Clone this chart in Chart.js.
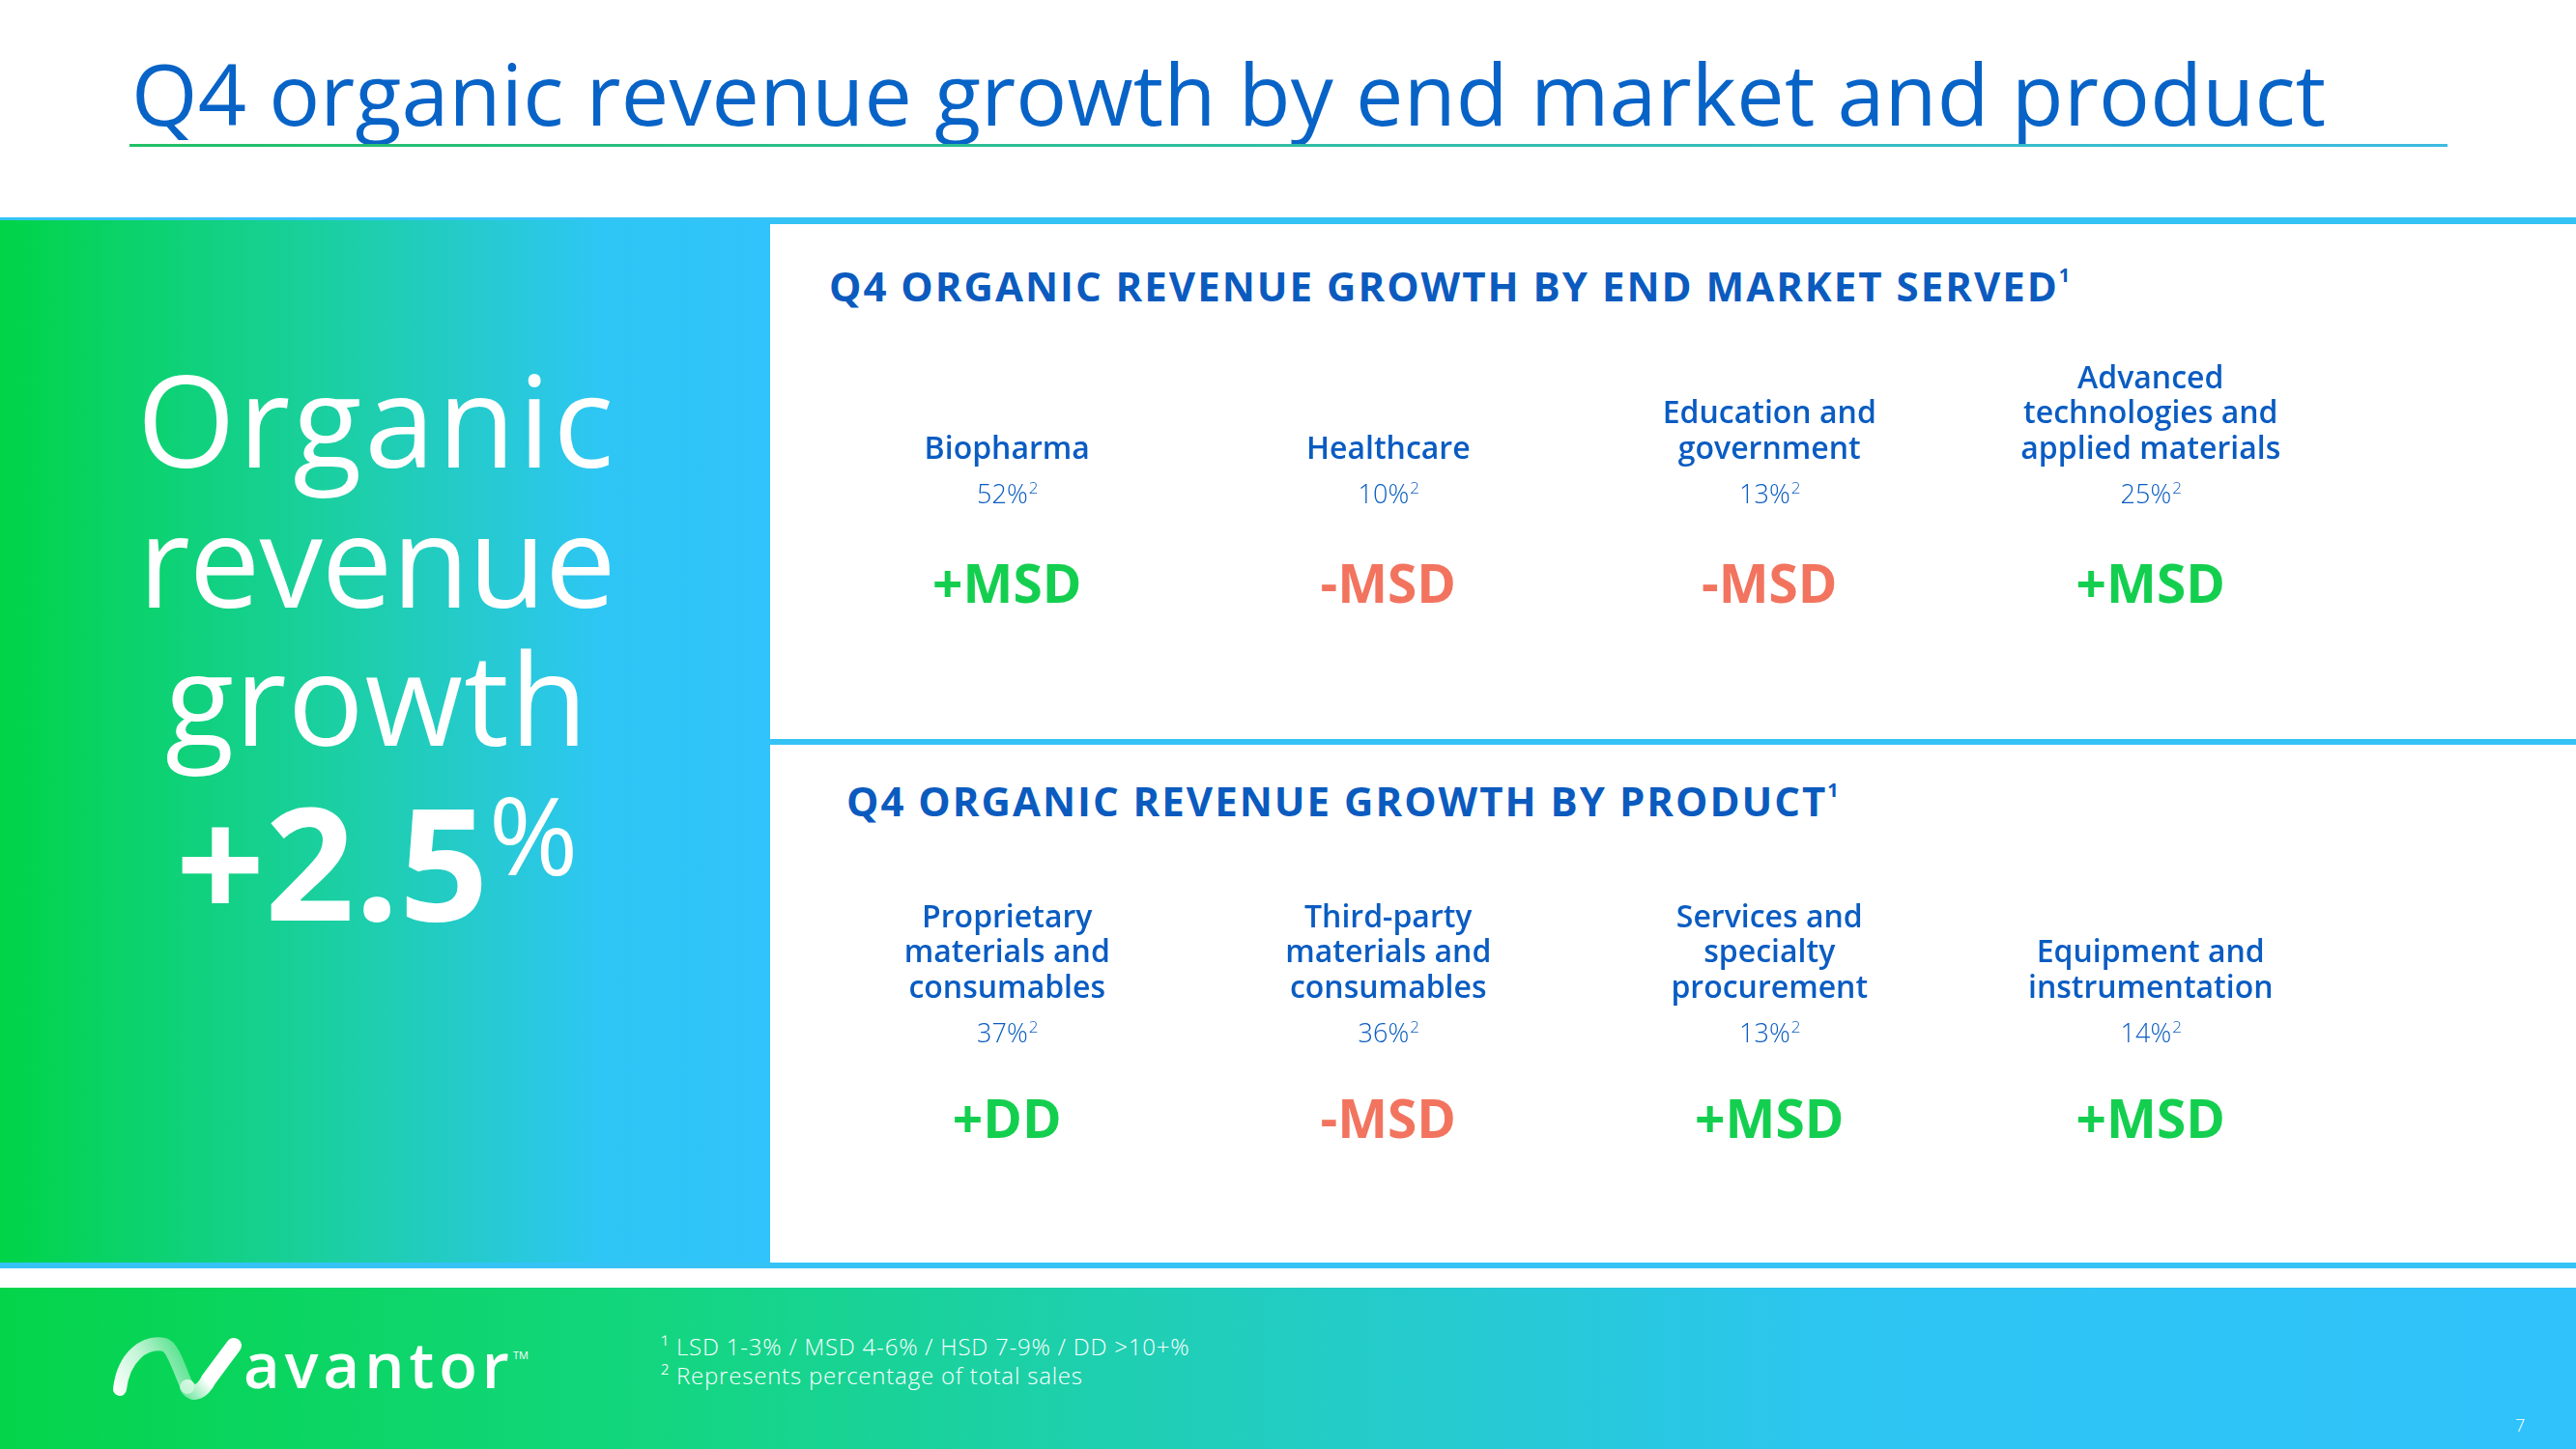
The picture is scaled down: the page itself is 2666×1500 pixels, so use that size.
<!DOCTYPE html>
<html>
<head>
<meta charset="utf-8">
<script src="https://cdn.jsdelivr.net/npm/chart.js@4/dist/chart.umd.min.js"></script>
<style>
  html, body { margin: 0; padding: 0; }
  body { width: 2666px; height: 1500px; position: relative; overflow: hidden; background: #fff; font-family: 'Open Sans', sans-serif; }
  .abs { position: absolute; line-height: 1; white-space: nowrap; }
  #title { left: 136px; top: 52px; font-size: 88px; color: #0863c7; font-weight: 400; letter-spacing: 0.2px; }
  #titleRule { left: 134px; top: 149px; width: 2399px; height: 3px; background: linear-gradient(90deg, #22c066, #3cbbe2); }
  #bandTop { left: 0; top: 225px; width: 2666px; height: 7px; background: #35c3f6; }
  #leftPanel { left: 0; top: 228px; width: 797px; height: 1079px; background: linear-gradient(90deg, #00d447 0%, #1ccfa6 45%, #2ec6f4 78%, #31c3fb 100%); }
  #midRule { left: 797px; top: 765px; width: 1869px; height: 6px; background: #35c3f6; }
  #bandBottom { left: 0; top: 1307px; width: 2666px; height: 6px; background: #35c3f6; }
  #footer { left: 0; top: 1333px; width: 2666px; height: 167px; background: linear-gradient(90deg, #04d44a 0%, #13d67e 25%, #22cdc0 49%, #2dc5f2 72%, #30c2fb 100%); }
  .big { color: #fff; width: 780px; text-align: center; left: 0; font-size: 131px; letter-spacing: 1px; }
  .head { color: #0b5bbf; font-size: 42px; font-weight: 700; letter-spacing: 2px; }
  .head sup { font-size: 20px; vertical-align: 0; position: relative; top: -20px; letter-spacing: 0; }
  .panel { position: absolute; left: 797px; width: 1869px; }
  .note { color: #fff; font-size: 24px; font-weight: 300; letter-spacing: 0.8px; }
</style>
</head>
<body>
<div class="abs" id="title">Q4 organic revenue growth by end market and product</div>
<div class="abs" id="titleRule"></div>
<div class="abs" id="bandTop"></div>
<div class="abs" id="leftPanel"></div>
<div class="abs" id="midRule"></div>
<div class="abs" id="bandBottom"></div>
<div class="abs" id="footer"></div>

<div class="abs big" style="top:368px;letter-spacing:3px;">Organic</div>
<div class="abs big" style="top:513px;letter-spacing:-1px;">revenue</div>
<div class="abs big" style="top:656px;">growth</div>
<div class="abs big" id="totalGrowth" style="top:809px;font-size:162px;font-weight:700;letter-spacing:0;"></div>

<div class="abs head" id="head1" style="left:858px;top:275px;"></div>
<div class="abs head" id="head2" style="left:876px;top:808px;"></div>

<div class="panel" style="top:232px;height:533px;"><canvas id="chartMarket"></canvas></div>
<div class="panel" style="top:771px;height:536px;"><canvas id="chartProduct"></canvas></div>

<svg class="abs" style="left:100px;top:1380px;" width="160" height="70" viewBox="100 1380 160 70">
  <defs>
    <linearGradient id="lg1" gradientUnits="userSpaceOnUse" x1="118" y1="1440" x2="200" y2="1395">
      <stop offset="0" stop-color="#fff" stop-opacity="1"/>
      <stop offset="0.45" stop-color="#fff" stop-opacity="0.75"/>
      <stop offset="1" stop-color="#fff" stop-opacity="0.2"/>
    </linearGradient>
    <linearGradient id="lg2" gradientUnits="userSpaceOnUse" x1="190" y1="1442" x2="245" y2="1390">
      <stop offset="0" stop-color="#fff" stop-opacity="0.45"/>
      <stop offset="0.35" stop-color="#fff" stop-opacity="1"/>
      <stop offset="1" stop-color="#fff" stop-opacity="1"/>
    </linearGradient>
  </defs>
  <path d="M124 1438 C128 1404 150 1388 170 1392 C180 1395 186 1420 194 1436" fill="none" stroke="url(#lg1)" stroke-width="14" stroke-linecap="round"/>
  <path d="M194 1436 C200 1446 210 1440 216 1428 L242 1393" fill="none" stroke="url(#lg2)" stroke-width="16" stroke-linecap="round"/>
</svg>
<div class="abs" style="left:252px;top:1380px;font-size:65px;font-weight:600;color:#fff;letter-spacing:5px;">avantor</div>
<div class="abs" style="left:531px;top:1397px;font-size:11px;color:#fff;">TM</div>
<div class="abs note" id="note1" style="left:684px;top:1382px;"></div>
<div class="abs note" id="note2" style="left:684px;top:1412px;"></div>
<div class="abs note" style="left:2603px;top:1466px;font-size:18px;">7</div>

<script>
const totalGrowth = 2.5;

const marketHeading = 'Q4 ORGANIC REVENUE GROWTH BY END MARKET SERVED';
const endMarkets = [
    ['Biopharma'],
    ['Healthcare'],
    ['Education and', 'government'],
    ['Advanced', 'technologies and', 'applied materials']
];
const endMarketShare = [52, 10, 13, 25];
const endMarketGrowth = ['+MSD', '-MSD', '-MSD', '+MSD'];

const productHeading = 'Q4 ORGANIC REVENUE GROWTH BY PRODUCT';
const products = [
    ['Proprietary', 'materials and', 'consumables'],
    ['Third-party', 'materials and', 'consumables'],
    ['Services and', 'specialty', 'procurement'],
    ['Equipment and', 'instrumentation']
];
const productShare = [37, 36, 13, 14];
const productGrowth = ['+DD', '-MSD', '+MSD', '+MSD'];

const footnotes = [
    '¹ LSD 1-3% / MSD 4-6% / HSD 7-9% / DD >10+%',
    '² Represents percentage of total sales'
];

const BLUE = '#0a5cc2';
const GREEN = '#14cf4f';
const RED = '#f2745f';

document.getElementById('totalGrowth').innerHTML =
    `+${totalGrowth.toFixed(1)}<span style="font-size:112px;font-weight:400;position:relative;top:-47px;">%</span>`;
document.getElementById('head1').innerHTML = `${marketHeading}<sup>1</sup>`;
document.getElementById('head2').innerHTML = `${productHeading}<sup>1</sup>`;
document.getElementById('note1').innerText = footnotes[0];
document.getElementById('note2').innerText = footnotes[1];

// Plugin: % de ventas y etiqueta de crecimiento bajo cada categoría
const tileText = {
    id: 'tileText',
    afterDraw(chart, args, opts) {
        const { ctx, chartArea } = chart;
        const x = chart.scales.x;
        ctx.save();
        ctx.textBaseline = 'alphabetic';
        opts.share.forEach((v, i) => {
            const px = x.getPixelForValue(i);
            // "52%" con superíndice 2
            const main = `${v}%`;
            ctx.font = '300 27px "Open Sans"';
            const w = ctx.measureText(main).width;
            ctx.font = '300 17px "Open Sans"';
            const ws = ctx.measureText('2').width;
            const start = px - (w + ws) / 2;
            ctx.fillStyle = BLUE;
            ctx.textAlign = 'left';
            ctx.font = '300 27px "Open Sans"';
            ctx.fillText(main, start, chartArea.top + opts.shareOffset);
            ctx.font = '300 17px "Open Sans"';
            ctx.fillText('2', start + w + 1, chartArea.top + opts.shareOffset - 10);

            // etiqueta de crecimiento
            const g = opts.growth[i];
            ctx.textAlign = 'center';
            ctx.font = '700 55px "Open Sans"';
            ctx.fillStyle = g.startsWith('+') ? GREEN : RED;
            ctx.fillText(g, px, chartArea.top + opts.growthOffset);
        });
        ctx.restore();
    }
};

function crearPanel(canvasId, labels, share, growth, padTop, growthOffset) {
    return new Chart(document.getElementById(canvasId), {
        type: 'line',
        data: {
            labels: labels,
            datasets: [{
                label: 'Share of total sales (%)',
                data: share,
                showLine: false,
                pointRadius: 0,
                pointHoverRadius: 0
            }]
        },
        options: {
            responsive: true,
            maintainAspectRatio: false,
            animation: false,
            layout: { padding: { left: 48, right: 243, top: padTop, bottom: 0 } },
            scales: {
                x: {
                    position: 'top',
                    offset: true,
                    grid: { display: false, drawTicks: false },
                    border: { display: false },
                    ticks: {
                        autoSkip: false,
                        maxRotation: 0,
                        padding: 0,
                        color: BLUE,
                        font: { family: 'Open Sans', size: 32, weight: '600', lineHeight: 1.13 }
                    }
                },
                y: { display: false }
            },
            plugins: {
                legend: { display: false },
                tooltip: { enabled: false },
                tileText: { share: share, growth: growth, shareOffset: 38, growthOffset: growthOffset }
            }
        },
        plugins: [tileText]
    });
}

crearPanel('chartMarket', endMarkets, endMarketShare, endMarketGrowth, 143, 141);
crearPanel('chartProduct', products, productShare, productGrowth, 162, 137);
</script>
</body>
</html>
